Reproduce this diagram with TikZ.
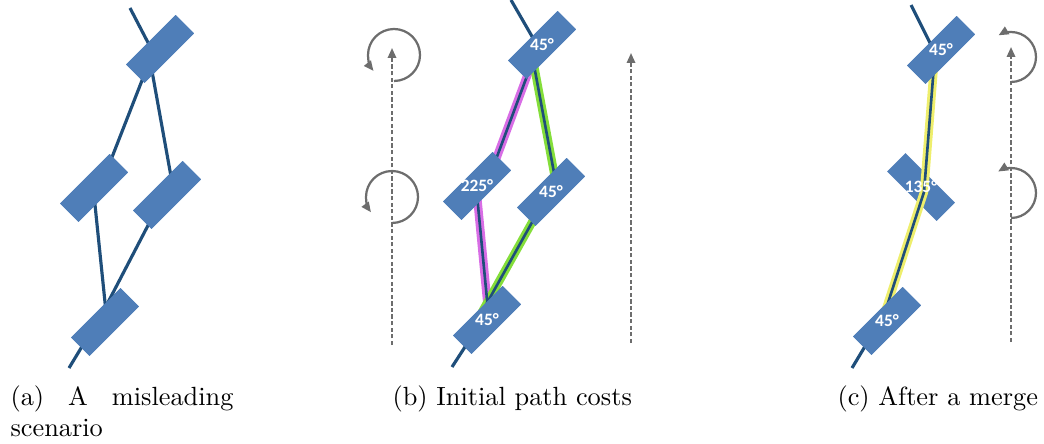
\documentclass[tikz,border=0pt]{standalone}
\usepackage{fontspec}
\usetikzlibrary{arrows.meta,calc}
\newfontfamily\degfont{Carlito}
\definecolor{boxblue}{HTML}{4F7EB8}
\definecolor{wireblue}{HTML}{1F4E7A}
\definecolor{pathpink}{HTML}{D86DE5}
\definecolor{pathgreen}{HTML}{84DE3A}
\definecolor{pathyellow}{HTML}{EEEE6C}
\definecolor{arrowgray}{HTML}{6D6D6D}
\begin{document}
\begin{tikzpicture}[x=0.38pt, y=-0.38pt, >={Triangle[length=3.8pt,width=3.2pt]},
    box/.style={fill=boxblue, minimum width=26.6pt, minimum height=9.9pt, inner sep=0pt, rotate=45},
    deg/.style={text=white, inner sep=0pt, font=\degfont\bfseries\fontsize{6.6pt}{7pt}\selectfont},
    wire/.style={draw=wireblue, line width=1.2pt},
    thinwire/.style={draw=wireblue, line width=1pt},
    glow/.style={line width=3.2pt},
    guide/.style={->, draw=arrowgray, line width=0.75pt, dash pattern=on 1.6pt off 0.9pt},
    turn/.style={->, draw=arrowgray, line width=0.85pt},
    caption/.style={inner sep=0pt, anchor=base west}]
    \useasboundingbox (0,0) rectangle (1044,444);

    % (a) misleading scenario
    \coordinate (Atop) at (130,8);
    \coordinate (Abot) at (69,368);
    \node[box] (A1) at (160,49) {};
    \node[box] (A2) at (94,188) {};
    \node[box] (A3) at (167,195) {};
    \node[box] (A4) at (105,322) {};
    \draw[wire] (Atop) -- ($(A1)+(-4,9)$);
    \draw[wire] ($(A1)+(-10,11)$) -- ($(A2)+(13,-18)$);
    \draw[wire] ($(A1)+(-10,11)$) -- ($(A3)+(5,-13)$);
    \draw[wire] ($(A2)+(0,7)$) -- ($(A4)+(1,-10)$);
    \draw[wire] ($(A3)+(-11,15)$) -- ($(A4)+(-2,-10)$);
    \draw[wire] ($(A4)+(-13,8)$) -- (Abot);
    \foreach \n in {A1,A2,A3,A4}
        \node[box] at (\n) {};

    % (b) initial path costs
    \coordinate (Btop) at (511,0);
    \coordinate (Bbot) at (452,367);
    \coordinate (Bfrom) at (392,345);
    \coordinate (Bto) at (392,48);
    \coordinate (Rfrom) at (631,343);
    \coordinate (Rto) at (631,53);
    \node[box] (B1) at (542,45) {};
    \node[box] (B2) at (477,186) {};
    \node[box] (B3) at (551,192) {};
    \node[box] (B4) at (487,320) {};
    \begin{scope}[glow]
        \draw[pathpink, xshift=-0.6pt] ($(B1)+(-9,15)$) -- ($(B2)+(15,-16)$);
        \draw[pathpink, xshift=-0.6pt] ($(B2)+(0,9)$) -- ($(B4)+(1,-10)$);
        \draw[pathgreen, xshift=0.6pt] ($(B1)+(-9,15)$) -- ($(B3)+(4,-14)$);
        \draw[pathgreen, xshift=0.6pt] ($(B3)+(-11,16)$) -- ($(B4)+(-5,-8)$);
    \end{scope}
    \draw[wire] (Btop) -- ($(B1)+(-1,7)$);
    \draw[thinwire] ($(B1)+(-9,15)$) -- ($(B2)+(15,-16)$);
    \draw[thinwire] ($(B2)+(0,9)$) -- ($(B4)+(1,-10)$);
    \draw[thinwire] ($(B1)+(-9,15)$) -- ($(B3)+(4,-14)$);
    \draw[thinwire] ($(B3)+(-11,16)$) -- ($(B4)+(-5,-8)$);
    \draw[wire] ($(B4)+(-13,13)$) -- (Bbot);
    \foreach \n in {B1,B2,B3,B4}
        \node[box] at (\n) {};
    \node[deg] (B1t) at (B1) {45°};
    \node[deg] (B2t) at (B2) {225°};
    \node[deg] (B3t) at (B3) {45°};
    \node[deg] (B4t) at (B4) {45°};
    \draw[guide] (Bfrom) -- (Bto);
    \draw[guide] (Rfrom) -- (Rto);
    \draw[turn] (394,81) arc[start angle=90, end angle=-218, radius=26];
    \draw[turn] (392,223) arc[start angle=90, end angle=-216, radius=26];

    % (c) after a merge
    \coordinate (Ctop) at (911,5);
    \coordinate (Cbot) at (852,368);
    \coordinate (Cfrom) at (1011,342);
    \coordinate (Cto) at (1011,47);
    \node[box] (C1) at (941,50) {};
    \node[box] (C3) at (887,321) {};
    \node[box, rotate=-90] (C2) at (921,187) {};
    \draw[glow, pathyellow, xshift=-0.6pt] ($(C1)+(-7,15)$) -- ($(C2)+(3,5)$) -- ($(C3)+(-2,-9)$);
    \draw[thinwire] ($(C1)+(-7,15)$) -- ($(C2)+(3,5)$) -- ($(C3)+(-2,-9)$);
    \draw[wire] (Ctop) -- ($(C1)+(-5,5)$);
    \draw[wire] ($(C3)+(-14,12)$) -- (Cbot);
    \foreach \n in {C1,C3}
        \node[box] at (\n) {};
    \node[deg] (C1t) at (C1) {45°};
    \node[deg] (C2t) at (C2) {135°};
    \node[deg] (C3t) at (C3) {45°};
    \draw[guide] (Cfrom) -- (Cto);
    \draw[turn] (1011,82) arc[start angle=90, end angle=-120, radius=25];
    \draw[turn] (1011,218) arc[start angle=90, end angle=-121, radius=25];

    % captions
    \node[caption, text width=84.7pt, align=justify] (capa) at (10,405) {(a) A misleading scenario};
    \node[caption] (capb) at (392,405) {(b) Initial path costs};
    \node[caption] (capc) at (837,405) {(c) After a merge};
\end{tikzpicture}
\end{document}
